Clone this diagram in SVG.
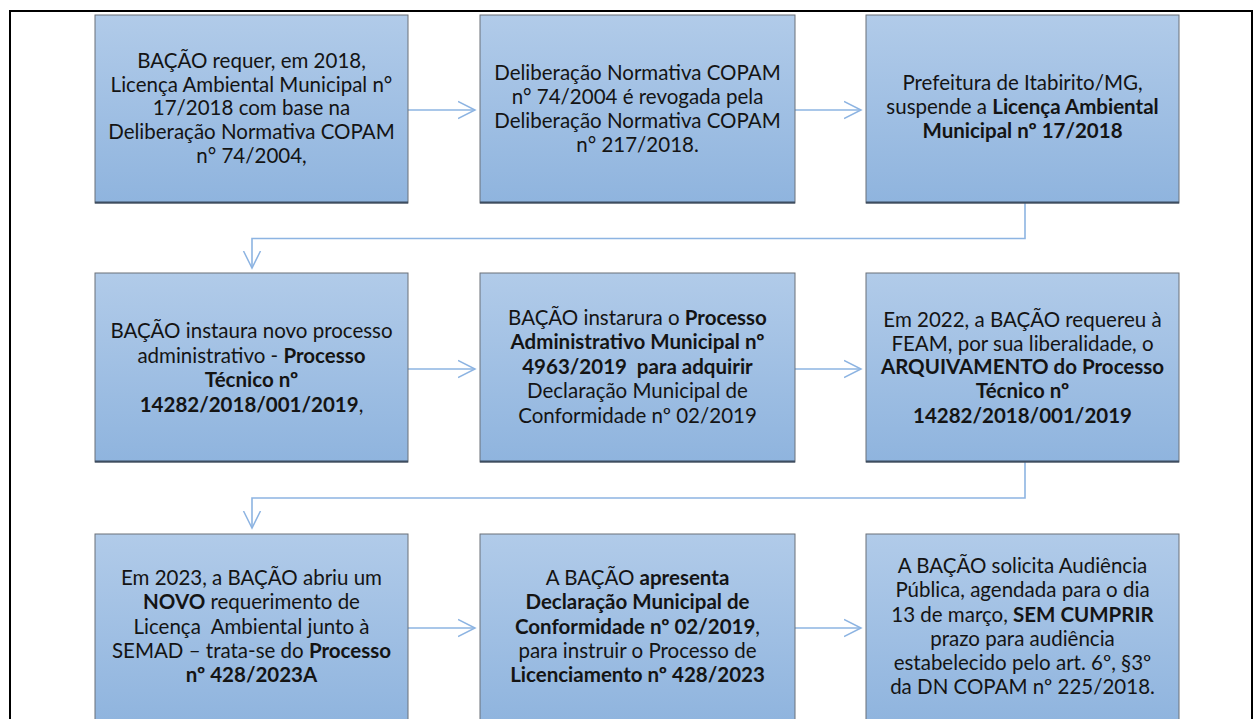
<svg xmlns="http://www.w3.org/2000/svg" width="1255" height="719" viewBox="0 0 1255 719">
<defs>
<linearGradient id="g" x1="0" y1="0" x2="0" y2="1">
<stop offset="0" stop-color="#b1cbe9"/>
<stop offset="1" stop-color="#8fb4de"/>
</linearGradient>
<marker id="ah" viewBox="0 0 20 20" refX="17" refY="10" markerWidth="20" markerHeight="20" markerUnits="userSpaceOnUse" orient="auto">
<path d="M0,1.5 L17,10 L0,18.5" fill="none" stroke="#8db4e2" stroke-width="1.5"/>
</marker>
<style>
.box{fill:url(#g);stroke:#6b7079;stroke-width:1}
.sh{stroke:#3d4d60;stroke-width:2}
.t{font-family:Lato,"Liberation Sans",sans-serif;font-size:20.5px;fill:#141414;text-anchor:middle}
.b{font-weight:bold}
.c{fill:none;stroke:#8db4e2;stroke-width:1.6}
</style>
</defs>
<rect width="1255" height="719" fill="#ffffff"/>
<path d="M10,719 V11 H1252 V719" fill="none" stroke="#000" stroke-width="2"/>
<g id="connectors">
<path class="c" d="M408,110 H475" marker-end="url(#ah)"/>
<path class="c" d="M795,110 H861" marker-end="url(#ah)"/>
<path class="c" d="M1025,203 V238.5 H252 V268" marker-end="url(#ah)"/>
<path class="c" d="M408,369 H475" marker-end="url(#ah)"/>
<path class="c" d="M795,369 H861" marker-end="url(#ah)"/>
<path class="c" d="M1025,462 V498 H252 V528" marker-end="url(#ah)"/>
<path class="c" d="M408,628 H475" marker-end="url(#ah)"/>
<path class="c" d="M795,628 H861" marker-end="url(#ah)"/>
</g>
<g id="n1">
<rect class="box" x="95" y="15" width="313" height="188"/><line class="sh" x1="95" y1="202.5" x2="408" y2="202.5"/>
<text class="t"><tspan x="251.5" y="68">BAÇÃO requer, em 2018,</tspan><tspan x="251.5" y="91.5">Licença Ambiental Municipal n°</tspan><tspan x="251.5" y="115">17/2018 com base na</tspan><tspan x="251.5" y="139">Deliberação Normativa COPAM</tspan><tspan x="251.5" y="163">n° 74/2004,</tspan></text>
</g>
<g id="n2">
<rect class="box" x="480" y="15" width="315" height="188"/><line class="sh" x1="480" y1="202.5" x2="795" y2="202.5"/>
<text class="t"><tspan x="637.5" y="80">Deliberação Normativa COPAM</tspan><tspan x="637.5" y="104">n° 74/2004 é revogada pela</tspan><tspan x="637.5" y="128">Deliberação Normativa COPAM</tspan><tspan x="637.5" y="152">n° 217/2018.</tspan></text>
</g>
<g id="n3">
<rect class="box" x="866" y="15" width="313" height="188"/><line class="sh" x1="866" y1="202.5" x2="1179" y2="202.5"/>
<text class="t"><tspan x="1022.5" y="90">Prefeitura de Itabirito/MG,</tspan><tspan x="1022.5" y="114">suspende a <tspan class="b">Licença Ambiental</tspan></tspan><tspan x="1022.5" y="138" class="b">Municipal nº 17/2018</tspan></text>
</g>
<g id="n4">
<rect class="box" x="95" y="273" width="313" height="189"/><line class="sh" x1="95" y1="461.5" x2="408" y2="461.5"/>
<text class="t"><tspan x="251.5" y="338">BAÇÃO instaura novo processo</tspan><tspan x="251.5" y="362.5">administrativo - <tspan class="b">Processo</tspan></tspan><tspan x="251.5" y="387" class="b">Técnico nº</tspan><tspan x="251.5" y="411.5"><tspan class="b">14282/2018/001/2019</tspan>,</tspan></text>
</g>
<g id="n5">
<rect class="box" x="480" y="273" width="315" height="189"/><line class="sh" x1="480" y1="461.5" x2="795" y2="461.5"/>
<text class="t" xml:space="preserve"><tspan x="637.5" y="325">BAÇÃO instarura o <tspan class="b">Processo</tspan></tspan><tspan x="637.5" y="349" class="b">Administrativo Municipal nº</tspan><tspan x="637.5" y="373.5" class="b">4963/2019  para adquirir</tspan><tspan x="637.5" y="398">Declaração Municipal de</tspan><tspan x="637.5" y="422.5">Conformidade nº 02/2019</tspan></text>
</g>
<g id="n6">
<rect class="box" x="866" y="273" width="313" height="189"/><line class="sh" x1="866" y1="461.5" x2="1179" y2="461.5"/>
<text class="t"><tspan x="1022.5" y="327">Em 2022, a BAÇÃO requereu à</tspan><tspan x="1022.5" y="350.5">FEAM, por sua liberalidade, o</tspan><tspan x="1022.5" y="374" class="b">ARQUIVAMENTO do Processo</tspan><tspan x="1022.5" y="398" class="b">Técnico nº</tspan><tspan x="1022.5" y="422.5" class="b">14282/2018/001/2019</tspan></text>
</g>
<g id="n7">
<rect class="box" x="95" y="534" width="313" height="190"/>
<text class="t" xml:space="preserve"><tspan x="251.5" y="585">Em 2023, a BAÇÃO abriu um</tspan><tspan x="251.5" y="609"><tspan class="b">NOVO</tspan> requerimento de</tspan><tspan x="251.5" y="633.5">Licença  Ambiental junto à</tspan><tspan x="251.5" y="658">SEMAD – trata-se do <tspan class="b">Processo</tspan></tspan><tspan x="251.5" y="682" class="b">nº 428/2023A</tspan></text>
</g>
<g id="n8">
<rect class="box" x="480" y="534" width="315" height="190"/>
<text class="t"><tspan x="637.5" y="585">A BAÇÃO <tspan class="b">apresenta</tspan></tspan><tspan x="637.5" y="609" class="b">Declaração Municipal de</tspan><tspan x="637.5" y="633.5"><tspan class="b">Conformidade nº 02/2019</tspan>,</tspan><tspan x="637.5" y="658">para instruir o Processo de</tspan><tspan x="637.5" y="682" class="b">Licenciamento nº 428/2023</tspan></text>
</g>
<g id="n9">
<rect class="box" x="866" y="534" width="313" height="190"/>
<text class="t"><tspan x="1022.5" y="573">A BAÇÃO solicita Audiência</tspan><tspan x="1022.5" y="597">Pública, agendada para o dia</tspan><tspan x="1022.5" y="621.5">13 de março, <tspan class="b">SEM CUMPRIR</tspan></tspan><tspan x="1022.5" y="645.5">prazo para audiência</tspan><tspan x="1022.5" y="670">estabelecido pelo art. 6º, §3º</tspan><tspan x="1022.5" y="694">da DN COPAM nº 225/2018.</tspan></text>
</g>
</svg>
